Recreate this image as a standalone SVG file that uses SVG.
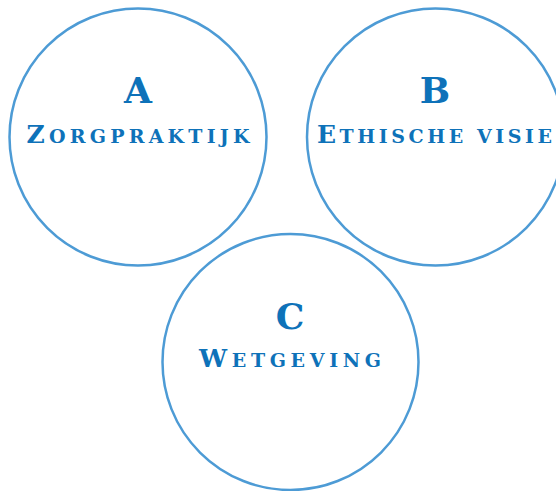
<svg xmlns="http://www.w3.org/2000/svg" width="556" height="491" viewBox="0 0 556 491">
<style>
.c{fill:#fff;stroke:#4d9bd5;stroke-width:2.5}
.l{font-family:"DejaVu Serif","Liberation Serif",serif;font-weight:bold;fill:#0e72b9;text-anchor:middle}
.big{font-size:36px}
.sc{font-size:25px}
.s{font-size:19px;text-transform:uppercase}
</style>
<rect width="556" height="491" fill="#fff"/>
<g id="nodeA">
<circle class="c" cx="138" cy="137" r="128.5"/>
<text class="l big" x="138" y="103">A</text>
<text class="l sc" x="138" y="143" textLength="223" lengthAdjust="spacing">Z<tspan class="s">orgpraktijk</tspan></text>
</g>
<g id="nodeB">
<circle class="c" cx="435.5" cy="137" r="128.5"/>
<text class="l big" x="435" y="103">B</text>
<text class="l sc" x="434.5" y="143" textLength="235" lengthAdjust="spacing">E<tspan class="s">thische visie</tspan></text>
</g>
<g id="nodeC">
<circle class="c" cx="290.5" cy="362" r="128"/>
<text class="l big" x="290" y="329">C</text>
<text class="l sc" x="290" y="367" textLength="182" lengthAdjust="spacing">W<tspan class="s">etgeving</tspan></text>
</g>
<g id="connectors"/>
</svg>
